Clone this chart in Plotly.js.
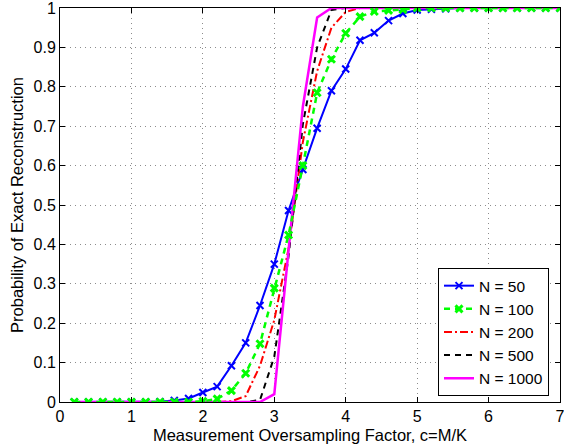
<!DOCTYPE html>
<html>
<head>
<meta charset="utf-8">
<script src="https://cdn.plot.ly/plotly-3.0.1.min.js"></script>
<style>html,body{margin:0;padding:0;background:#fff;}#chart{width:564px;height:446px;}</style>
</head>
<body>
<div id="chart"></div>
<script>
// Measurement oversampling factor c = M/K
const cValues = [0.2,0.4,0.6,0.8,1.0,1.2,1.4,1.6,1.8,2.0,2.2,2.4,2.6,2.8,3.0,3.2,3.4,3.6,3.8,4.0,4.2,4.4,4.6,4.8,5.0,5.2,5.4,5.6,5.8,6.0,6.2,6.4,6.6,6.8,7.0];

const seriesNames = ["N = 50", "N = 100", "N = 200", "N = 500", "N = 1000"];

const probN50 = [0,0,0,0,0,0,0.001,0.004,0.009,0.024,0.039,0.092,0.150,0.245,0.350,0.486,0.590,0.695,0.790,0.845,0.918,0.937,0.968,0.986,0.995,0.997,0.998,1,1,1,1,1,1,1,1];
const probN100 = [0,0,0,0,0,0,0,0,0,0.002,0.008,0.029,0.073,0.148,0.289,0.424,0.600,0.785,0.870,0.936,0.978,0.991,0.994,0.996,1,1,1,1,1,1,1,1,1,1,1];
const probN200 = [0,0,0,0,0,0,0,0,0,0,0,0.002,0.015,0.092,0.208,0.390,0.660,0.840,0.950,0.990,1,1,1,1,1,1,1,1,1,1,1,1,1,1,1];
const probN500 = [0,0,0,0,0,0,0,0,0,0,0,0,0,0.005,0.115,0.370,0.705,0.900,0.995,1,1,1,1,1,1,1,1,1,1,1,1,1,1,1,1];
const probN1000 = [0,0,0,0,0,0,0,0,0,0,0,0,0,0,0.020,0.388,0.750,0.976,1,1,1,1,1,1,1,1,1,1,1,1,1,1,1,1,1];

const xTickVals = [0,1,2,3,4,5,6,7];
const yTickVals = [0,0.1,0.2,0.3,0.4,0.5,0.6,0.7,0.8,0.9,1];
const yTickText = ["0","0.1","0.2","0.3","0.4","0.5","0.6","0.7","0.8","0.9","1"];

const FONT = "Liberation Sans, Arial, Helvetica, sans-serif";

const tBlue = {x: cValues, y: probN50, name: seriesNames[0], legendrank: 1, mode: "lines+markers",
   line: {color: "#0000ff", width: 2, dash: "solid"},
   marker: {symbol: "x-thin-open", size: 7, line: {color: "#0000ff", width: 2}, color: "#0000ff"}};
const tGreen = {x: cValues, y: probN100, name: seriesNames[1], legendrank: 2, mode: "lines+markers",
   line: {color: "#00ff00", width: 2.5, dash: "6px,5px"},
   marker: {symbol: "x-thin-open", size: 7, line: {color: "#00ff00", width: 3}, color: "#00ff00"}};
const tRed = {x: cValues, y: probN200, name: seriesNames[2], legendrank: 3, mode: "lines",
   line: {color: "#ff0000", width: 2, dash: "8px,3px,2px,3px"}};
const tBlack = {x: cValues, y: probN500, name: seriesNames[3], legendrank: 4, mode: "lines",
   line: {color: "#000000", width: 2, dash: "6px,5px"}};
const tMagenta = {x: cValues, y: probN1000, name: seriesNames[4], legendrank: 5, mode: "lines",
   line: {color: "#ff00ff", width: 2.5, dash: "solid"}};

const traces = [tBlue, tRed, tBlack, tMagenta, tGreen];

const layout = {
  width: 564, height: 446,
  margin: {l: 60, r: 4, t: 8, b: 44},
  paper_bgcolor: "#ffffff", plot_bgcolor: "#ffffff",
  font: {family: FONT, size: 16, color: "#000"},
  showlegend: true,
  legend: {
    x: 0.978, y: 0.015, xanchor: "right", yanchor: "bottom",
    bgcolor: "#ffffff", bordercolor: "#000", borderwidth: 1,
    font: {family: FONT, size: 15.5, color: "#000"},
    traceorder: "normal", tracegroupgap: 0, itemwidth: 30
  },
  xaxis: {
    range: [0, 7], tickvals: xTickVals, ticktext: xTickVals.map(String),
    ticks: "inside", ticklen: 5, tickcolor: "#000",
    showline: true, linecolor: "#000", linewidth: 1, mirror: "ticks",
    showgrid: true, gridcolor: "#8c8c8c", griddash: "1px,4px", gridwidth: 1,
    zeroline: false, ticklabeloverflow: "allow",
    tickfont: {family: FONT, size: 16},
    title: {text: "Measurement Oversampling Factor, c=M/K", font: {family: FONT, size: 16.5}, standoff: 5}
  },
  yaxis: {
    range: [0, 1], tickvals: yTickVals, ticktext: yTickText,
    ticks: "inside", ticklen: 5, tickcolor: "#000",
    showline: true, linecolor: "#000", linewidth: 1, mirror: "ticks",
    showgrid: true, gridcolor: "#8c8c8c", griddash: "1px,4px", gridwidth: 1,
    zeroline: false, ticklabeloverflow: "allow",
    tickfont: {family: FONT, size: 16},
    title: {text: "Probability of Exact Reconstruction", font: {family: FONT, size: 16.5}, standoff: 5}
  }
};

Plotly.newPlot("chart", traces, layout, {staticPlot: true, displayModeBar: false});
</script>
</body>
</html>
